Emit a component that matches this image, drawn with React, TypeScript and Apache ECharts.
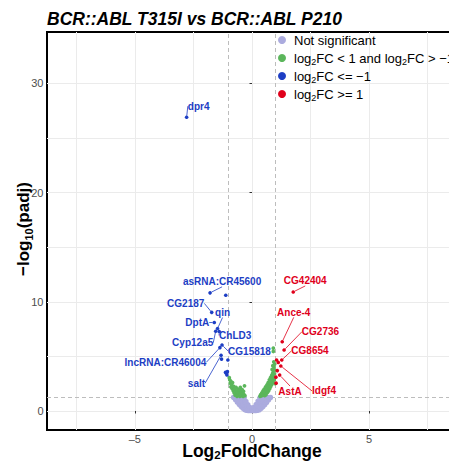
import React, { useEffect, useRef } from 'react';
import * as echarts from 'echarts';

const FONT = '"Liberation Sans", Arial, Helvetica, sans-serif';

const TITLE = 'BCR::ABL T315I vs BCR::ABL P210';
const SERIES_NAMES = ['Not significant', 'log2FC < 1 and log2FC > −1', 'log2FC <= −1', 'log2FC >= 1'];
const COLORS = ['#ABABDE', '#5BB65B', '#1D3EC4', '#E0001B'];

const X_TICKS = [-5, 0, 5];
const X_MINOR = [-7.5, -2.5, 2.5, 7.5];
const Y_TICKS = [0, 10, 20, 30];
const Y_MINOR = [5, 15, 25];
const LFC_CUTOFFS = [-1, 1];
const PADJ_CUTOFF = 1.301;

// Not significant (padj >= 0.05)
const nsPoints = [
  [-0.80, 1.22], [-0.80, 1.28],
  [-0.72, 1.00], [-0.72, 1.15], [-0.72, 1.28],
  [-0.64, 0.78], [-0.64, 0.95], [-0.64, 1.12], [-0.64, 1.27],
  [-0.56, 0.58], [-0.56, 0.78], [-0.56, 0.98], [-0.56, 1.18], [-0.56, 1.28],
  [-0.48, 0.38], [-0.48, 0.58], [-0.48, 0.80], [-0.48, 1.00], [-0.48, 1.20],
  [-0.40, 0.22], [-0.40, 0.42], [-0.40, 0.62], [-0.40, 0.85], [-0.40, 1.05], [-0.40, 1.27],
  [-0.32, 0.08], [-0.32, 0.28], [-0.32, 0.50], [-0.32, 0.72], [-0.32, 0.95], [-0.32, 1.20],
  [-0.24, 0.02], [-0.24, 0.20], [-0.24, 0.42], [-0.24, 0.65], [-0.24, 0.90],
  [-0.16, 0.01], [-0.16, 0.18], [-0.16, 0.38], [-0.16, 0.60],
  [-0.08, 0.00], [-0.08, 0.15], [-0.08, 0.35],
  [0.00, 0.00], [0.00, 0.12], [0.00, 0.30],
  [0.08, 0.00], [0.08, 0.14], [0.08, 0.36],
  [0.16, 0.01], [0.16, 0.19], [0.16, 0.40], [0.16, 0.62],
  [0.24, 0.03], [0.24, 0.22], [0.24, 0.44], [0.24, 0.68], [0.24, 0.92],
  [0.32, 0.07], [0.32, 0.27], [0.32, 0.50], [0.32, 0.74], [0.32, 0.98], [0.32, 1.22],
  [0.40, 0.20], [0.40, 0.40], [0.40, 0.62], [0.40, 0.86], [0.40, 1.08], [0.40, 1.28],
  [0.48, 0.36], [0.48, 0.56], [0.48, 0.78], [0.48, 1.02], [0.48, 1.24],
  [0.56, 0.55], [0.56, 0.76], [0.56, 0.98], [0.56, 1.18], [0.56, 1.29],
  [0.64, 0.76], [0.64, 0.94], [0.64, 1.12], [0.64, 1.27],
  [0.72, 0.98], [0.72, 1.14], [0.72, 1.28],
  [0.80, 1.20], [0.80, 1.28],
];

// Significant, |log2FC| < 1
const midPoints = [
  [-0.97, 3.05], [-0.95, 2.85], [-0.93, 2.55], [-0.90, 2.70], [-0.90, 2.20], [-0.87, 2.40],
  [-0.85, 2.05], [-0.83, 2.60], [-0.80, 1.85], [-0.78, 2.25], [-0.76, 1.65], [-0.74, 2.00],
  [-0.72, 1.45], [-0.70, 1.80], [-0.68, 2.15], [-0.66, 1.55], [-0.64, 1.35], [-0.62, 1.75],
  [-0.60, 2.00], [-0.58, 1.45], [-0.56, 1.65], [-0.54, 1.90], [-0.52, 1.35], [-0.50, 2.15],
  [-0.48, 1.55], [-0.46, 1.75], [-0.44, 1.40], [-0.42, 1.95], [-0.40, 1.60], [-0.38, 1.35],
  [-0.36, 1.80], [-0.34, 1.50], [-0.32, 2.30], [-0.30, 1.40],
  [0.34, 1.35], [0.37, 1.50], [0.40, 1.38], [0.42, 1.65], [0.45, 1.45], [0.47, 1.85],
  [0.50, 1.55], [0.52, 2.00], [0.54, 1.40], [0.56, 1.75], [0.58, 2.20], [0.60, 1.50],
  [0.62, 1.95], [0.64, 2.40], [0.66, 1.70], [0.67, 2.15], [0.69, 2.60], [0.71, 1.85],
  [0.72, 2.35], [0.74, 2.85], [0.76, 2.05], [0.77, 2.55], [0.79, 3.05], [0.80, 2.25],
  [0.82, 2.75], [0.84, 3.25], [0.85, 2.45], [0.87, 2.95], [0.88, 3.45], [0.90, 2.65],
  [0.91, 3.70], [0.92, 3.15], [0.94, 4.00], [0.95, 2.85], [0.96, 3.40], [0.97, 4.30],
  [0.93, 4.50], [0.89, 4.15], [0.98, 3.75], [0.91, 5.45], [0.91, 5.75], [0.99, 2.50],
  [0.86, 3.80],
];

// log2FC <= -1
const downGenes = ['dpr4', 'asRNA:CR45600', '', 'CG2187', 'DptA', 'qin', 'Cyp12a5', 'ChLD3', 'CG15818', 'lncRNA:CR46004', 'salt', '', '', '', '', '', ''];
const downX = [-2.79, -1.79, -1.12, -1.72, -1.61, -1.47, -1.55, -1.40, -1.28, -1.37, -1.32, -1.30, -1.03, -1.10, -1.07, -1.13, -1.05];
const downY = [26.9, 10.82, 10.6, 9.03, 8.1, 7.55, 7.3, 7.28, 6.04, 5.8, 5.1, 4.75, 4.67, 3.45, 3.3, 3.55, 3.6];

// log2FC >= 1
const upGenes = ['CG42404', 'Ance-4', 'CG2736', 'CG8654', 'Idgf4', 'AstA', '', '', '', '', ''];
const upX = [1.76, 1.29, 1.37, 1.27, 1.23, 1.18, 1.05, 1.12, 1.08, 1.03, 1.02];
const upY = [10.9, 6.34, 5.58, 4.67, 4.12, 3.29, 4.67, 4.45, 3.7, 2.55, 3.1];

// label placement (pixel offsets from the point, repel-style)
const LABEL_OFFSETS: Record<string, [number, number]> = {
  'dpr4': [12, -11],
  'asRNA:CR45600': [12, -11],
  'CG2187': [-26, -9],
  'DptA': [-17, 0],
  'qin': [5, -16],
  'Cyp12a5': [-23, 11.5],
  'ChLD3': [16, 4],
  'lncRNA:CR46004': [-54.5, 14.7],
  'CG15818': [27.5, 6],
  'salt': [-24.6, 28],
  'CG42404': [12, -11],
  'Ance-4': [11.5, -29.4],
  'CG2736': [36.4, -18.3],
  'CG8654': [28.2, -9],
  'Idgf4': [43.2, 25],
  'AstA': [10.4, 16],
};

const sub = (s: string) => s.replace(/log2/g, 'log{s|2}');

function labeledData(genes: string[], xs: number[], ys: number[]) {
  return genes.map((g, i) => ({
    name: g,
    value: [xs[i], ys[i]],
    label: { show: g !== '' },
    labelLine: { show: g !== '' },
  }));
}

function labeledSeries(name: string, color: string, genes: string[], xs: number[], ys: number[]) {
  return {
    name,
    type: 'scatter',
    z: 4,
    symbol: 'circle',
    symbolSize: 3.6,
    itemStyle: { color, opacity: 1 },
    emphasis: { disabled: true },
    label: {
      show: true,
      position: 'inside',
      formatter: '{b}',
      color,
      fontSize: 10,
      fontWeight: 'bold',
      fontFamily: FONT,
    },
    labelLine: { show: true, lineStyle: { color, width: 0.8 } },
    labelLayout: (p: any) => {
      const o = LABEL_OFFSETS[p.text];
      return o ? { dx: o[0], dy: o[1] } : {};
    },
    data: labeledData(genes, xs, ys),
  };
}

const option: any = {
  animation: false,
  backgroundColor: '#ffffff',
  textStyle: { fontFamily: FONT },
  grid: {
    left: 47, top: 32, right: 23, bottom: 31,
    show: true, borderColor: '#000000', borderWidth: 2, backgroundColor: 'transparent',
  },
  xAxis: {
    type: 'value', min: -8.75, max: 8.75,
    axisLine: { show: false },
    axisTick: { show: true, customValues: X_TICKS, length: 2.5, lineStyle: { color: '#333333', width: 1 } },
    axisLabel: {
      customValues: X_TICKS, margin: 3, color: '#4d4d4d', fontSize: 11, fontFamily: FONT,
      formatter: (v: number) => String(v).replace('-', '–'),
    },
    splitLine: { show: true, lineStyle: { color: '#ebebeb', width: 1 } },
  },
  yAxis: {
    type: 'value', min: -1.74, max: 34.7,
    axisLine: { show: false },
    axisTick: { show: true, customValues: Y_TICKS, length: 2.5, lineStyle: { color: '#333333', width: 1 } },
    axisLabel: { customValues: Y_TICKS, margin: 3.5, color: '#4d4d4d', fontSize: 11, fontFamily: FONT },
    splitLine: { show: true, lineStyle: { color: '#ebebeb', width: 1 } },
  },
  legend: {
    orient: 'vertical', left: 278, top: 32, padding: 0, itemGap: 2,
    itemWidth: 14, itemHeight: 8, icon: 'circle', selectedMode: false,
    data: SERIES_NAMES,
    formatter: (n: string) => sub(n),
    textStyle: {
      fontSize: 13, color: '#000000', fontFamily: FONT, lineHeight: 16,
      rich: { s: { fontSize: 9, lineHeight: 9, verticalAlign: 'bottom', fontFamily: FONT, color: '#000000' } },
    },
  },
  graphic: [
    {
      type: 'text', x: 47, y: 19,
      style: {
        text: TITLE, fill: '#000000', fontSize: 17.5, fontWeight: 'bold', fontStyle: 'italic', fontFamily: FONT,
        textAlign: 'left', align: 'left', textVerticalAlign: 'middle', verticalAlign: 'middle',
      },
    },
    {
      type: 'text', x: 252, y: 451,
      style: {
        text: 'Log{s|2}FoldChange', fill: '#000000', fontSize: 17.5, fontWeight: 'bold', fontFamily: FONT, lineHeight: 19,
        textAlign: 'center', align: 'center', textVerticalAlign: 'middle', verticalAlign: 'middle',
        rich: { s: { fontSize: 11.5, lineHeight: 9, verticalAlign: 'bottom', fontWeight: 'bold', fontFamily: FONT } },
      },
    },
    {
      type: 'text', x: 23, y: 229, rotation: Math.PI / 2,
      style: {
        text: '−log{s|10}(padj)', fill: '#000000', fontSize: 17, fontWeight: 'bold', fontFamily: FONT, lineHeight: 22,
        textAlign: 'center', align: 'center', textVerticalAlign: 'middle', verticalAlign: 'middle',
        rich: { s: { fontSize: 11, lineHeight: 11, verticalAlign: 'bottom', fontWeight: 'bold', fontFamily: FONT } },
      },
    },
  ],
  series: [
    {
      name: '__grid', type: 'scatter', data: [], silent: true, z: 1,
      markLine: {
        silent: true, z: 1, symbol: ['none', 'none'], label: { show: false },
        emphasis: { disabled: true },
        lineStyle: { color: '#ebebeb', width: 1, type: 'solid' },
        data: [...X_MINOR.map((v) => ({ xAxis: v })), ...Y_MINOR.map((v) => ({ yAxis: v }))],
      },
    },
    {
      name: '__cutoffs', type: 'scatter', data: [], silent: true, z: 1,
      markLine: {
        silent: true, z: 1.5, symbol: ['none', 'none'], label: { show: false },
        emphasis: { disabled: true },
        lineStyle: { color: '#bdbdbd', width: 1, type: [4, 3] },
        data: [...LFC_CUTOFFS.map((v) => ({ xAxis: v })), { yAxis: PADJ_CUTOFF }],
      },
    },
    {
      name: SERIES_NAMES[0], type: 'scatter', z: 2, symbol: 'circle', symbolSize: 4.6,
      itemStyle: { color: COLORS[0], opacity: 1 }, emphasis: { disabled: true },
      data: nsPoints,
    },
    {
      name: SERIES_NAMES[1], type: 'scatter', z: 3, symbol: 'circle', symbolSize: 3.8,
      itemStyle: { color: COLORS[1], opacity: 1 }, emphasis: { disabled: true },
      data: midPoints,
    },
    labeledSeries(SERIES_NAMES[2], COLORS[2], downGenes, downX, downY),
    labeledSeries(SERIES_NAMES[3], COLORS[3], upGenes, upX, upY),
  ],
};

export default function App() {
  const ref = useRef<HTMLDivElement>(null);
  useEffect(() => {
    const chart = echarts.init(ref.current as HTMLDivElement, null, { renderer: 'svg' });
    chart.setOption(option);
    return () => chart.dispose();
  }, []);
  return (
    <div style={{ position: 'fixed', left: 0, top: 0, width: 449, height: 461, overflow: 'hidden', background: '#ffffff' }}>
      <div ref={ref} style={{ width: 480, height: 461 }} />
    </div>
  );
}
